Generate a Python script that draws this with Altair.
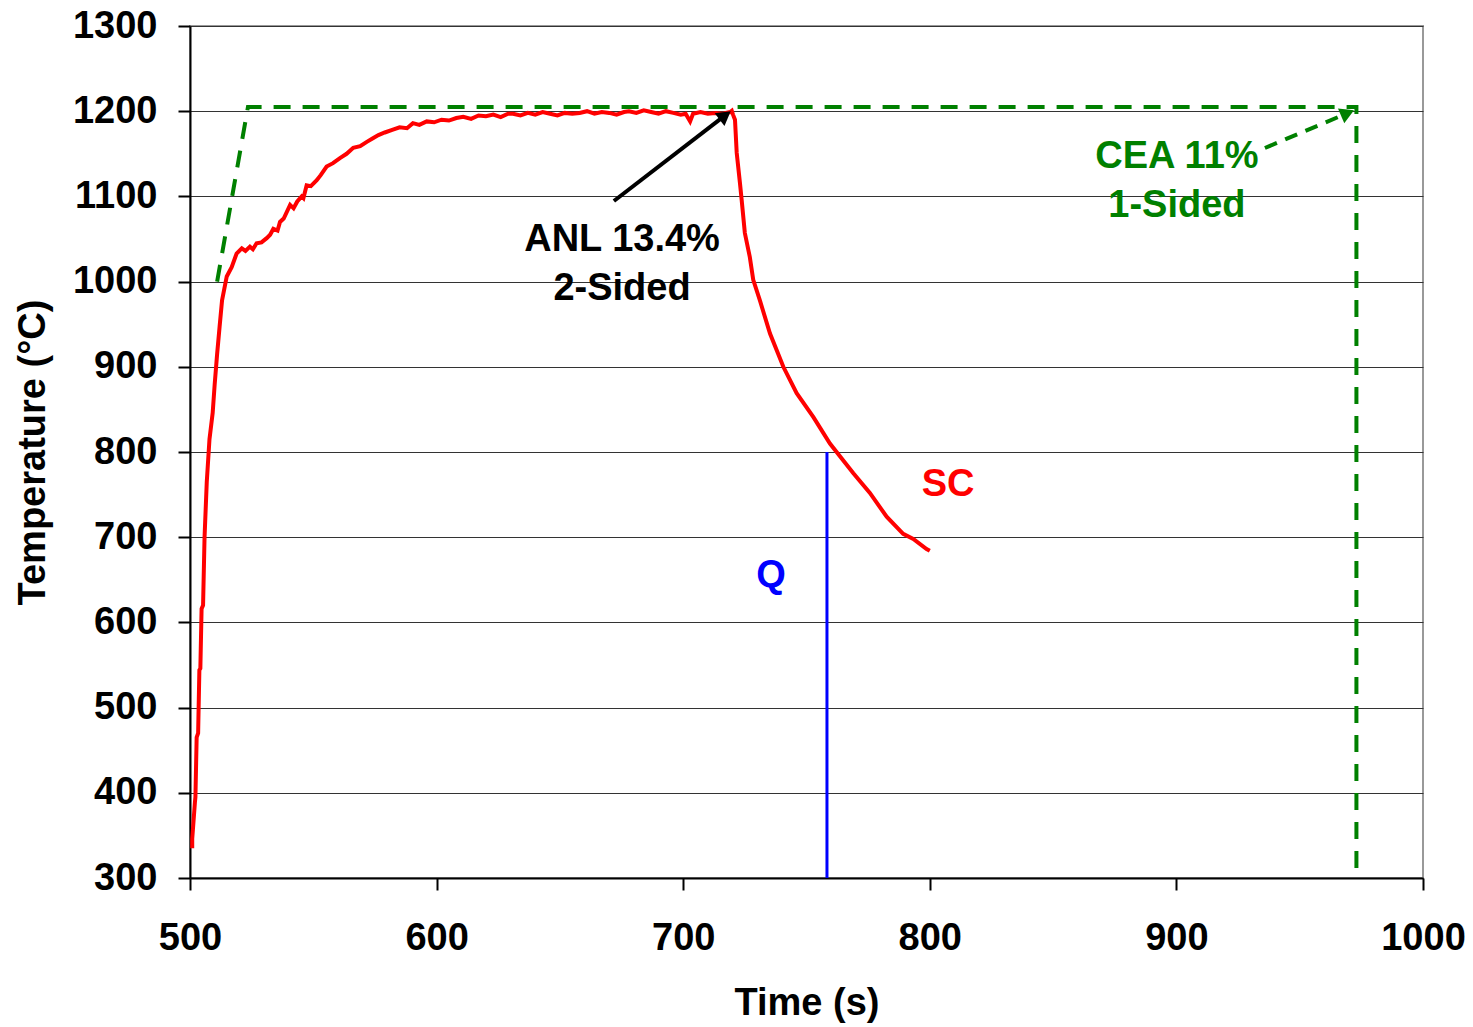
import altair as alt
import pandas as pd

# ---- data ----
sc_time = [500.9, 500.9, 502.0, 502.2, 502.7, 503.3, 503.8, 504.2, 504.7, 505.3,
           505.9, 506.8, 507.9, 509.2, 510.0, 511.0, 512.0, 513.0, 514.9, 516.9,
           518.9, 521.0, 522.5, 524.3, 525.5, 527.0, 529.0, 531.1, 532.5, 533.8,
           535.5, 536.5, 538.0, 540.6, 542.0, 543.5, 545.3, 546.0, 547.3, 549.0,
           551.4, 553.0, 555.4, 558.0, 560.8, 563.5, 566.2, 569.0, 571.7, 574.0,
           576.4, 579, 582, 585, 588, 590.4, 593, 596, 599, 602,
           605, 608, 610.8, 614, 617, 620, 623, 626, 629, 631,
           634, 637, 640, 643, 646, 649, 652, 655, 658, 661,
           664, 667, 670, 673, 676, 678, 681, 684, 687, 690,
           693, 696, 699, 701, 702.8, 704, 707, 710, 713, 716,
           719, 719.7, 720.2, 721.0, 721.7, 723.0, 723.7, 725.0, 727.0, 728.4,
           731.1, 735.2, 740.6, 746.0, 752.8, 759.5, 762.2, 769.0, 775.7, 782.5,
           789.2, 793.3, 798.7, 800.0]
sc_temp = [335, 346, 389, 395, 465, 470, 544, 546, 616, 620,
           700, 765, 815, 846, 879, 915, 947, 978, 1006, 1017,
           1033, 1039, 1036, 1041, 1038, 1045, 1046, 1051, 1055, 1062,
           1060, 1070, 1074, 1090, 1086, 1094, 1100, 1098, 1113, 1112,
           1119, 1125, 1135, 1139, 1145, 1150, 1157, 1159, 1164, 1168,
           1172, 1175, 1178, 1181, 1180, 1186, 1184, 1188, 1187, 1190,
           1189, 1192, 1193.5, 1191, 1195, 1194, 1196, 1193, 1197, 1197,
           1195, 1198, 1196, 1199, 1197, 1195, 1198, 1197, 1198, 1200,
           1197, 1199, 1198, 1196, 1199, 1200, 1198, 1201, 1199, 1197,
           1200, 1198, 1196, 1197, 1188, 1197, 1199, 1197, 1198, 1197,
           1199, 1200.5, 1196, 1190, 1151, 1116, 1096, 1057, 1029, 1002,
           978, 939, 900, 869, 841, 810, 800, 775, 752, 724,
           704, 698, 686, 684]
assert len(sc_time) == len(sc_temp)

cea_time = [511, 523.5, 973, 973]
cea_temp = [1000, 1205, 1205, 300]

q_time = [758.3, 758.3]
q_temp = [300, 800]

# annotation arrows: shaft start, head position
anl_arrow_time = [671.9, 717.0]
anl_arrow_temp = [1094.6, 1195.0]
cea_arrow_time = [935.9, 969.4]
cea_arrow_temp = [1156.8, 1197.8]

labels_text = ["ANL 13.4%", "2-Sided", "CEA 11%", "1-Sided", "SC", "Q"]
labels_time = [675.2, 675.2, 900.2, 900.2, 807.4, 735.6]
labels_temp = [1048.8, 991.3, 1146.2, 1088.7, 761.3, 654.5]
labels_color = ["#000000", "#000000", "#008000", "#008000", "#FF0000", "#0000FF"]

x_ticks = [500, 600, 700, 800, 900, 1000]
y_ticks = [300, 400, 500, 600, 700, 800, 900, 1000, 1100, 1200, 1300]

FONT = "Liberation Sans"

xs = alt.Scale(domain=[500, 1000], nice=False, zero=False)
ys = alt.Scale(domain=[300, 1300], nice=False, zero=False)

X = lambda: alt.X("t:Q", scale=xs, title="Time (s)",
                  axis=alt.Axis(values=x_ticks, grid=False, format="d", labelFlush=False))
Y = lambda: alt.Y("T:Q", scale=ys, title="Temperature (°C)",
                  axis=alt.Axis(values=y_ticks, grid=True, format="d", labelFlush=False))

sc_df = pd.DataFrame({"t": sc_time, "T": sc_temp, "i": range(len(sc_time))})
cea_df = pd.DataFrame({"t": cea_time, "T": cea_temp, "i": range(len(cea_time))})
q_df = pd.DataFrame({"t": q_time, "T": q_temp, "i": range(len(q_time))})
anl_arrow_df = pd.DataFrame({"t": anl_arrow_time, "T": anl_arrow_temp, "i": [0, 1]})
cea_arrow_df = pd.DataFrame({"t": cea_arrow_time, "T": cea_arrow_temp, "i": [0, 1]})
lab_df = pd.DataFrame({"t": labels_time, "T": labels_temp, "txt": labels_text,
                       "c": labels_color})

sc_line = alt.Chart(sc_df).mark_line(color="#FF0000", strokeWidth=4).encode(
    x=X(), y=Y(), order="i:Q")
cea_line = alt.Chart(cea_df).mark_line(color="#008000", strokeWidth=4,
                                       strokeDash=[17, 12]).encode(
    x=X(), y=Y(), order="i:Q")
q_line = alt.Chart(q_df).mark_line(color="#0000FF", strokeWidth=3).encode(
    x=X(), y=Y(), order="i:Q")

anl_shaft = alt.Chart(anl_arrow_df).mark_line(color="black", strokeWidth=4).encode(
    x=X(), y=Y(), order="i:Q")
anl_head = alt.Chart(anl_arrow_df.iloc[[1]]).mark_point(
    shape="triangle-up", filled=True, color="black", size=260, angle=52.6, opacity=1
).encode(x=X(), y=Y())

cea_shaft = alt.Chart(cea_arrow_df).mark_line(color="#008000", strokeWidth=4,
                                              strokeDash=[13, 9]).encode(
    x=X(), y=Y(), order="i:Q")
cea_head = alt.Chart(cea_arrow_df.iloc[[1]]).mark_point(
    shape="triangle-up", filled=True, color="#008000", size=260, angle=67, opacity=1
).encode(x=X(), y=Y())

labels = alt.Chart(lab_df).mark_text(
    font=FONT, fontSize=38, fontWeight="bold", align="center", baseline="middle"
).encode(x=X(), y=Y(), text="txt:N", color=alt.Color("c:N", scale=None))

chart = alt.layer(
    sc_line, cea_line, q_line, anl_shaft, anl_head, cea_shaft, cea_head, labels
).properties(
    width=1233, height=852,
    autosize=alt.AutoSizeParams(type="none"),
    padding={"left": 190, "top": 26, "right": 50, "bottom": 149},
    background="white",
).configure_view(
    stroke="#999999", strokeWidth=2
).configure_axis(
    labelFont=FONT, labelFontSize=38, labelFontWeight="bold", labelColor="black",
    titleFont=FONT, titleFontSize=38, titleFontWeight="bold", titleColor="black",
    domainColor="black", domainWidth=2, tickColor="black", tickWidth=2, tickSize=12,
    gridColor="#333333", gridWidth=1, gridOpacity=1, labelFlush=False,
).configure_axisX(
    labelPadding=29, titlePadding=27
).configure_axisY(
    labelPadding=21, titlePadding=20
)

chart.save("out.html", embed_options={"renderer": "svg", "actions": False})
